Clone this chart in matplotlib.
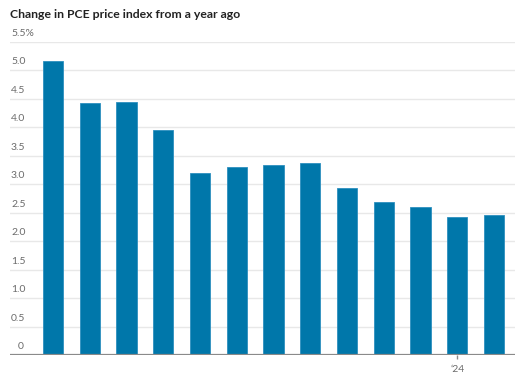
import matplotlib.pyplot as plt
import numpy as np

# PCE year-over-year change, %
months = ['Jan', 'Feb', 'Mar', 'Apr', 'May', 'Jun', 'Jul', 'Aug', 'Sep', 'Oct', 'Nov', 'Dec', 'Jan']
values = [5.17, 4.43, 4.45, 3.95, 3.20, 3.30, 3.34, 3.37, 2.93, 2.69, 2.60, 2.43, 2.46]
y_ticks = [0, 0.5, 1.0, 1.5, 2.0, 2.5, 3.0, 3.5, 4.0, 4.5, 5.0, 5.5]
y_labels = ['0', '0.5', '1.0', '1.5', '2.0', '2.5', '3.0', '3.5', '4.0', '4.5', '5.0', '5.5%']
x_tick_pos = [11]
x_tick_labels = ["\u201824"]

plt.rcParams['font.family'] = ['Lato', 'DejaVu Sans']

fig = plt.figure(figsize=(5.25, 3.76), dpi=100)
ax = fig.add_axes([10 / 525, 21 / 376, 505 / 525, 313 / 376])

x = np.arange(len(values))
ax.bar(x, values, width=0.55, color='#0077aa', edgecolor='#2d8fbf', linewidth=0.6, zorder=2)

ax.set_xlim(-1.17, len(values) - 0.43)
ax.set_ylim(0, 5.5)

# gridlines and y labels sitting above them
for t, lab in zip(y_ticks, y_labels):
    if t > 0:
        ax.axhline(t, color='#e8e8e8', linewidth=1, zorder=1)
        ax.text(-1.17 + 1 / 36.75, t + 0.07, lab, ha='left', va='bottom',
                fontsize=7.5, color='#6b6b6b')
    else:
        ax.text(-1.17 + 13.5 / 36.75, t + 0.07, lab, ha='right', va='bottom',
                fontsize=7.5, color='#6b6b6b')

ax.axhline(0, color='#8a8a8a', linewidth=1.6, zorder=3)

for s in ax.spines.values():
    s.set_visible(False)
ax.set_yticks([])
ax.set_xticks(x_tick_pos)
ax.set_xticklabels(x_tick_labels, fontsize=7.5, color='#6b6b6b')
ax.tick_params(axis='x', length=3, width=1, color='#8a8a8a', pad=4)

fig.text(10 / 525, 1 - 14 / 376, 'Change in PCE price index from a year ago',
         ha='left', va='center', fontsize=8.8, fontweight='bold', color='#222222')

fig.savefig('out.png', dpi=100)
